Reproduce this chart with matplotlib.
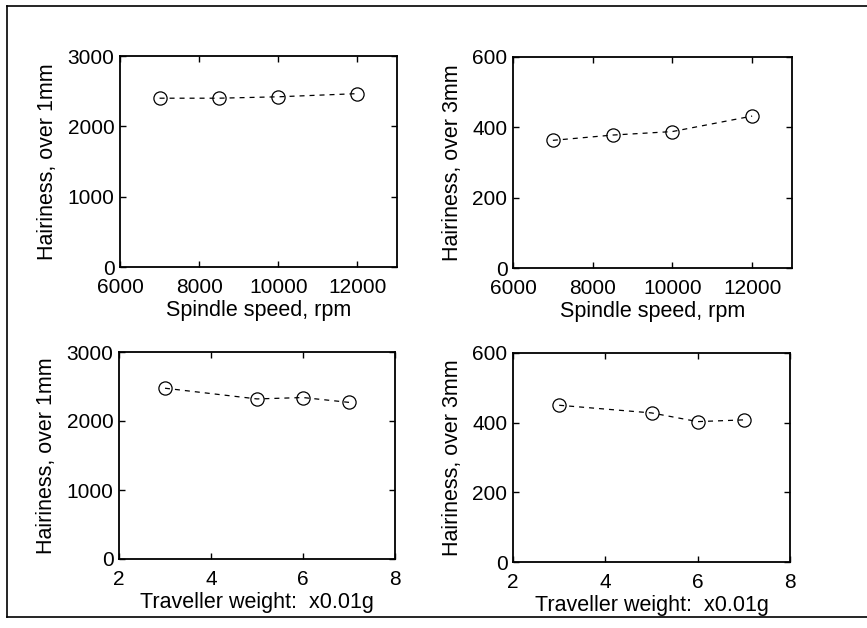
import numpy as np
import matplotlib
matplotlib.use('Agg')
import matplotlib.pyplot as plt
from matplotlib.lines import Line2D

plt.rcParams['font.family'] = ['Liberation Sans', 'DejaVu Sans']

# data
spindle_speed = [7000, 8500, 10000, 12000]
hair_1mm_speed = [2400, 2400, 2420, 2465]
hair_3mm_speed = [363, 378, 388, 432]

traveller_weight = [3, 5, 6, 7]
hair_1mm_weight = [2475, 2320, 2340, 2270]
hair_3mm_weight = [450, 428, 403, 408]

xlab_speed = 'Spindle speed, rpm'
xlab_weight = 'Traveller weight:  x0.01g'
ylab_1mm = 'Hairiness, over 1mm'
ylab_3mm = 'Hairiness, over 3mm'

fig = plt.figure(figsize=(8.67, 6.28), dpi=100)

# scanned page frame
W, H = 867, 628
fig.add_artist(Line2D([7/W, 7/W], [1-6/H, 1-617/H], color='black', lw=1.2))
fig.add_artist(Line2D([7/W, 1.0], [1-6/H, 1-6/H], color='black', lw=1.2))
fig.add_artist(Line2D([7/W, 1.0], [1-617/H, 1-617/H], color='black', lw=1.2))

boxes = [
    (120, 56, 397, 267),
    (513, 57, 792, 268),
    (119, 352, 395, 559),
    (513, 353, 790, 562),
]

panels = [
    (spindle_speed, hair_1mm_speed, xlab_speed, ylab_1mm, (6000, 13000), [6000, 8000, 10000, 12000], 3000, [0, 1000, 2000, 3000]),
    (spindle_speed, hair_3mm_speed, xlab_speed, ylab_3mm, (6000, 13000), [6000, 8000, 10000, 12000], 600, [0, 200, 400, 600]),
    (traveller_weight, hair_1mm_weight, xlab_weight, ylab_1mm, (2, 8), [2, 4, 6, 8], 3000, [0, 1000, 2000, 3000]),
    (traveller_weight, hair_3mm_weight, xlab_weight, ylab_3mm, (2, 8), [2, 4, 6, 8], 600, [0, 200, 400, 600]),
]

for (x0, y0, x1, y1), (xs, ys, xl, yl, xlim, xt, ymax, yt) in zip(boxes, panels):
    ax = fig.add_axes([x0/W, 1-y1/H, (x1-x0)/W, (y1-y0)/H])
    ax.plot(xs, ys, 'k--', lw=0.9, dashes=(4, 4),
            marker='o', markersize=9.5, markerfacecolor='none',
            markeredgecolor='black', markeredgewidth=0.9)
    ax.set_xlim(*xlim)
    ax.set_ylim(0, ymax)
    ax.set_xticks(xt)
    ax.set_yticks(yt)
    ax.tick_params(direction='in', length=4, width=1, top=True, right=True,
                   labelsize=15)
    ax.tick_params(axis='x', pad=8)
    ax.tick_params(axis='y', pad=4)
    for s in ax.spines.values():
        s.set_linewidth(1.3)
    ax.set_xlabel(xl, fontsize=15.5, labelpad=2)
    ax.set_ylabel(yl, fontsize=15.5, labelpad=7)

fig.savefig('out.png', dpi=100)
